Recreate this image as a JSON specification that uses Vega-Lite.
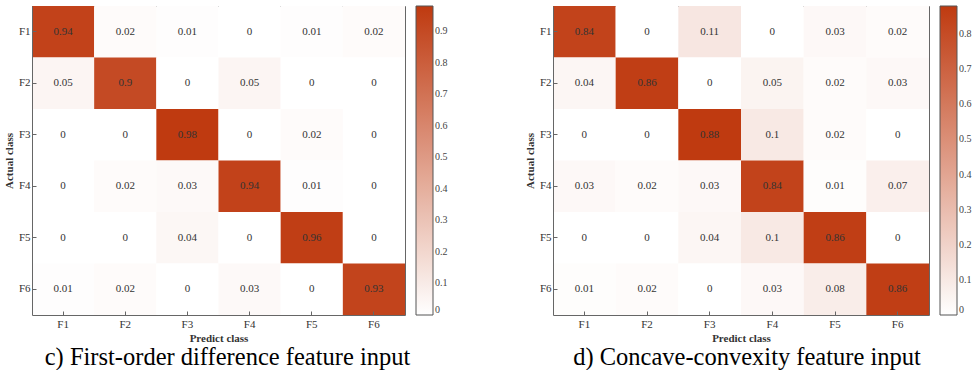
{
  "$schema": "https://vega.github.io/schema/vega-lite/v6.json",
  "padding": {"left": 3, "top": 5, "right": 0, "bottom": 0},
  "background": "white",
  "datasets": {
    "c": [
      {"actual": "F1", "predict": "F1", "value": 0.94}, {"actual": "F1", "predict": "F2", "value": 0.02}, {"actual": "F1", "predict": "F3", "value": 0.01}, {"actual": "F1", "predict": "F4", "value": 0}, {"actual": "F1", "predict": "F5", "value": 0.01}, {"actual": "F1", "predict": "F6", "value": 0.02},
      {"actual": "F2", "predict": "F1", "value": 0.05}, {"actual": "F2", "predict": "F2", "value": 0.9}, {"actual": "F2", "predict": "F3", "value": 0}, {"actual": "F2", "predict": "F4", "value": 0.05}, {"actual": "F2", "predict": "F5", "value": 0}, {"actual": "F2", "predict": "F6", "value": 0},
      {"actual": "F3", "predict": "F1", "value": 0}, {"actual": "F3", "predict": "F2", "value": 0}, {"actual": "F3", "predict": "F3", "value": 0.98}, {"actual": "F3", "predict": "F4", "value": 0}, {"actual": "F3", "predict": "F5", "value": 0.02}, {"actual": "F3", "predict": "F6", "value": 0},
      {"actual": "F4", "predict": "F1", "value": 0}, {"actual": "F4", "predict": "F2", "value": 0.02}, {"actual": "F4", "predict": "F3", "value": 0.03}, {"actual": "F4", "predict": "F4", "value": 0.94}, {"actual": "F4", "predict": "F5", "value": 0.01}, {"actual": "F4", "predict": "F6", "value": 0},
      {"actual": "F5", "predict": "F1", "value": 0}, {"actual": "F5", "predict": "F2", "value": 0}, {"actual": "F5", "predict": "F3", "value": 0.04}, {"actual": "F5", "predict": "F4", "value": 0}, {"actual": "F5", "predict": "F5", "value": 0.96}, {"actual": "F5", "predict": "F6", "value": 0},
      {"actual": "F6", "predict": "F1", "value": 0.01}, {"actual": "F6", "predict": "F2", "value": 0.02}, {"actual": "F6", "predict": "F3", "value": 0}, {"actual": "F6", "predict": "F4", "value": 0.03}, {"actual": "F6", "predict": "F5", "value": 0}, {"actual": "F6", "predict": "F6", "value": 0.93}
    ],
    "d": [
      {"actual": "F1", "predict": "F1", "value": 0.84}, {"actual": "F1", "predict": "F2", "value": 0}, {"actual": "F1", "predict": "F3", "value": 0.11}, {"actual": "F1", "predict": "F4", "value": 0}, {"actual": "F1", "predict": "F5", "value": 0.03}, {"actual": "F1", "predict": "F6", "value": 0.02},
      {"actual": "F2", "predict": "F1", "value": 0.04}, {"actual": "F2", "predict": "F2", "value": 0.86}, {"actual": "F2", "predict": "F3", "value": 0}, {"actual": "F2", "predict": "F4", "value": 0.05}, {"actual": "F2", "predict": "F5", "value": 0.02}, {"actual": "F2", "predict": "F6", "value": 0.03},
      {"actual": "F3", "predict": "F1", "value": 0}, {"actual": "F3", "predict": "F2", "value": 0}, {"actual": "F3", "predict": "F3", "value": 0.88}, {"actual": "F3", "predict": "F4", "value": 0.1}, {"actual": "F3", "predict": "F5", "value": 0.02}, {"actual": "F3", "predict": "F6", "value": 0},
      {"actual": "F4", "predict": "F1", "value": 0.03}, {"actual": "F4", "predict": "F2", "value": 0.02}, {"actual": "F4", "predict": "F3", "value": 0.03}, {"actual": "F4", "predict": "F4", "value": 0.84}, {"actual": "F4", "predict": "F5", "value": 0.01}, {"actual": "F4", "predict": "F6", "value": 0.07},
      {"actual": "F5", "predict": "F1", "value": 0}, {"actual": "F5", "predict": "F2", "value": 0}, {"actual": "F5", "predict": "F3", "value": 0.04}, {"actual": "F5", "predict": "F4", "value": 0.1}, {"actual": "F5", "predict": "F5", "value": 0.86}, {"actual": "F5", "predict": "F6", "value": 0},
      {"actual": "F6", "predict": "F1", "value": 0.01}, {"actual": "F6", "predict": "F2", "value": 0.02}, {"actual": "F6", "predict": "F3", "value": 0}, {"actual": "F6", "predict": "F4", "value": 0.03}, {"actual": "F6", "predict": "F5", "value": 0.08}, {"actual": "F6", "predict": "F6", "value": 0.86}
    ]
  },
  "spacing": 76,
  "hconcat": [
    {
      "width": 373,
      "height": 309,
      "data": {"name": "c"},
      "title": {"text": "c) First-order difference feature input", "orient": "bottom", "anchor": "middle", "frame": "group", "dx": 9, "offset": 3},
      "layer": [
        {
          "mark": {"type": "rect"},
          "encoding": {
            "x": {"field": "predict", "type": "nominal", "title": "Predict class", "axis": {"orient": "bottom"}},
            "y": {"field": "actual", "type": "nominal", "title": "Actual class", "axis": {"orient": "left"}},
            "color": {"field": "value", "type": "quantitative", "scale": {"domain": [0, 0.98], "range": ["#ffffff", "#bf3a10"], "interpolate": "rgb"},
              "legend": {"values": [0, 0.1, 0.2, 0.3, 0.4, 0.5, 0.6, 0.7, 0.8, 0.9], "format": ".1~f", "title": null}}
          }
        },
        {
          "mark": {"type": "text", "font": "Liberation Serif", "fontSize": 11, "color": "#333"},
          "encoding": {
            "x": {"field": "predict", "type": "nominal", "axis": {"orient": "top", "labels": false, "title": null}},
            "y": {"field": "actual", "type": "nominal", "axis": {"orient": "right", "labels": false, "title": null}},
            "text": {"field": "value", "type": "quantitative"}
          }
        }
      ]
    },
    {
      "width": 376,
      "height": 309,
      "data": {"name": "d"},
      "title": {"text": "d) Concave-convexity feature input", "orient": "bottom", "anchor": "middle", "frame": "group", "dx": 6, "offset": 3},
      "layer": [
        {
          "mark": {"type": "rect"},
          "encoding": {
            "x": {"field": "predict", "type": "nominal", "title": "Predict class", "axis": {"orient": "bottom"}},
            "y": {"field": "actual", "type": "nominal", "title": "Actual class", "axis": {"orient": "left"}},
            "color": {"field": "value", "type": "quantitative", "scale": {"domain": [0, 0.88], "range": ["#ffffff", "#bf3a10"], "interpolate": "rgb"},
              "legend": {"values": [0, 0.1, 0.2, 0.3, 0.4, 0.5, 0.6, 0.7, 0.8], "format": ".1~f", "title": null}}
          }
        },
        {
          "mark": {"type": "text", "font": "Liberation Serif", "fontSize": 11, "color": "#333"},
          "encoding": {
            "x": {"field": "predict", "type": "nominal", "axis": {"orient": "top", "labels": false, "title": null}},
            "y": {"field": "actual", "type": "nominal", "axis": {"orient": "right", "labels": false, "title": null}},
            "text": {"field": "value", "type": "quantitative"}
          }
        }
      ]
    }
  ],
  "resolve": {"scale": {"color": "independent"}, "legend": {"color": "independent"}},
  "config": {
    "view": {"stroke": null},
    "scale": {"bandPaddingInner": 0, "bandPaddingOuter": 0},
    "axis": {
      "domainColor": "#666",
      "tickColor": "#666",
      "tickSize": -4,
      "labelColor": "#333",
      "labelFont": "Liberation Serif",
      "labelFontSize": 11,
      "labelAngle": 0,
      "titleFont": "Liberation Serif",
      "titleFontSize": 11,
      "titleFontWeight": "bold",
      "titleColor": "#333",
      "grid": false
    },
    "axisX": {"labelPadding": 7, "titlePadding": 3},
    "axisY": {"labelPadding": 6, "titlePadding": 4},
    "legend": {
      "orient": "right",
      "offset": 10,
      "padding": 0,
      "gradientLength": 309,
      "gradientThickness": 17,
      "gradientStrokeColor": "#555",
      "gradientStrokeWidth": 1,
      "labelFont": "Liberation Serif",
      "labelFontSize": 10,
      "labelColor": "#444",
      "labelOverlap": false,
      "labelOffset": 5
    },
    "title": {"font": "Liberation Serif", "fontSize": 24.5, "fontWeight": "normal", "color": "#000"}
  }
}
